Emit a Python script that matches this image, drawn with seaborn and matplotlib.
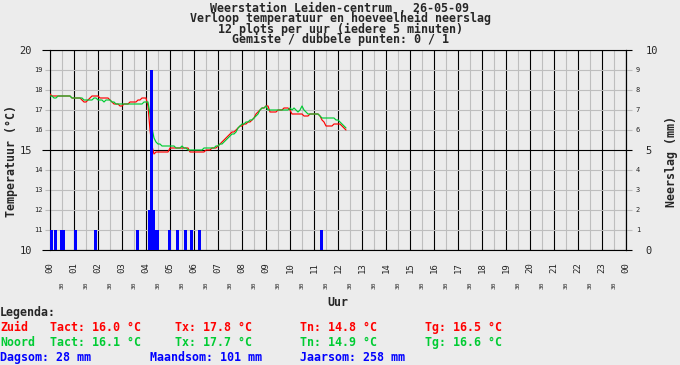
import numpy as np
import matplotlib
matplotlib.use("Agg")
import matplotlib.pyplot as plt
import seaborn as sns
from matplotlib.ticker import FixedLocator, FixedFormatter

# 5-minute samples from 00:00 (12 plots per uur), one row per hour
temp_zuid = [
    17.8, 17.7, 17.7, 17.7, 17.7, 17.7, 17.7, 17.7, 17.7, 17.7, 17.7, 17.6,
    17.6, 17.6, 17.6, 17.6, 17.5, 17.4, 17.4, 17.5, 17.6, 17.7, 17.7, 17.7,
    17.7, 17.6, 17.6, 17.6, 17.6, 17.6, 17.5, 17.4, 17.3, 17.3, 17.3, 17.2,
    17.2, 17.3, 17.3, 17.3, 17.4, 17.4, 17.4, 17.4, 17.5, 17.5, 17.6, 17.6,
    17.6, 17.2, 16.0, 15.2, 14.8, 14.9, 14.9, 14.9, 14.9, 14.9, 14.9, 14.9,
    15.1, 15.1, 15.1, 15.1, 15.1, 15.1, 15.1, 15.1, 15.1, 15.1, 14.9, 14.9,
    14.9, 14.9, 14.9, 14.9, 14.9, 14.9, 15.0, 15.0, 15.0, 15.1, 15.1, 15.1,
    15.2, 15.3, 15.4, 15.5, 15.6, 15.7, 15.8, 15.9, 15.9, 16.0, 16.1, 16.2,
    16.2, 16.3, 16.3, 16.4, 16.4, 16.5, 16.6, 16.8, 16.9, 17.0, 17.1, 17.1,
    17.2, 17.2, 16.9, 16.9, 16.9, 16.9, 17.0, 17.0, 17.0, 17.1, 17.1, 17.1,
    17.0, 16.8, 16.8, 16.8, 16.8, 16.8, 16.8, 16.7, 16.7, 16.7, 16.8, 16.8,
    16.8, 16.8, 16.8, 16.7, 16.5, 16.4, 16.2, 16.2, 16.2, 16.2, 16.3, 16.3,
    16.3, 16.3, 16.2, 16.1, 16.0,
]
temp_noord = [
    17.7, 17.7, 17.6, 17.6, 17.7, 17.7, 17.7, 17.7, 17.7, 17.7, 17.7, 17.6,
    17.6, 17.6, 17.6, 17.6, 17.6, 17.5, 17.5, 17.5, 17.5, 17.5, 17.6, 17.6,
    17.5, 17.5, 17.5, 17.4, 17.5, 17.5, 17.5, 17.4, 17.4, 17.3, 17.3, 17.3,
    17.3, 17.3, 17.3, 17.3, 17.3, 17.3, 17.3, 17.3, 17.3, 17.3, 17.3, 17.4,
    17.4, 17.4, 16.8, 16.1, 15.6, 15.4, 15.3, 15.3, 15.2, 15.2, 15.2, 15.2,
    15.2, 15.2, 15.2, 15.1, 15.1, 15.1, 15.2, 15.1, 15.1, 15.0, 15.0, 15.0,
    15.0, 15.0, 15.0, 15.0, 15.0, 15.1, 15.1, 15.1, 15.1, 15.1, 15.1, 15.2,
    15.2, 15.3, 15.3, 15.4, 15.5, 15.6, 15.7, 15.8, 15.8, 15.9, 16.1, 16.2,
    16.3, 16.3, 16.4, 16.4, 16.5, 16.5, 16.6, 16.7, 16.8, 17.0, 17.1, 17.1,
    17.2, 17.0, 17.0, 17.0, 17.0, 17.0, 17.0, 17.0, 17.0, 17.0, 17.0, 17.0,
    17.1, 17.0, 17.1, 17.0, 16.9, 17.0, 17.2, 17.0, 16.9, 16.8, 16.8, 16.8,
    16.8, 16.8, 16.8, 16.7, 16.6, 16.6, 16.6, 16.6, 16.6, 16.6, 16.6, 16.5,
    16.5, 16.4, 16.3, 16.2, 16.1,
]

# rain per 5 minutes (mm)
rain_times = ["00:00", "00:10", "00:25", "00:30", "01:00", "01:50", "03:35",
              "04:05", "04:10", "04:15", "04:20", "04:25", "04:55", "05:15",
              "05:35", "05:50", "06:10", "11:15"]
rain_mm = [1, 1, 1, 1, 1, 1, 1, 2, 9, 2, 1, 1, 1, 1, 1, 1, 1, 1]

hour_labels = ["%02d" % h for h in range(24)] + ["00"]

title_lines = ["Weerstation Leiden-centrum , 26-05-09",
               "Verloop temperatuur en hoeveelheid neerslag",
               "12 plots per uur (iedere 5 minuten)",
               "Gemiste / dubbele punten: 0 / 1"]

BG = "#ECECEC"
GRAY = "#BEBEBE"
RED = "#FF0000"
GREEN = "#00CC33"
BLUE = "#0000FF"

sns.set_style("white")
plt.rcParams["font.family"] = ["DejaVu Sans Mono", "DejaVu Sans"]

W, H = 680, 365
fig = plt.figure(figsize=(W / 100, H / 100), dpi=100, facecolor=BG)
ax = fig.add_axes([50 / W, 1 - 250 / H, 576 / W, 200 / H])
ax.set_facecolor(BG)

t_temp = np.arange(len(temp_zuid)) / 12
t_rain = [int(s[:2]) + int(s[3:]) / 60 for s in rain_times]

sns.lineplot(x=t_temp, y=temp_zuid, color=RED, lw=0.85, ax=ax, zorder=3)
sns.lineplot(x=t_temp[:len(temp_noord)], y=temp_noord, color=GREEN, lw=0.85, ax=ax, zorder=4)

ax.set_xlim(0, 24)
ax.set_ylim(10, 20)
ax.set_xlabel("")
ax.set_ylabel("")

# x ticks: hours major, half hours minor
ax.xaxis.set_major_locator(FixedLocator(list(range(25))))
ax.xaxis.set_major_formatter(FixedFormatter(hour_labels))
ax.xaxis.set_minor_locator(FixedLocator([h + 0.5 for h in range(24)]))
ax.xaxis.set_minor_formatter(FixedFormatter(["30"] * 24))
ax.tick_params(axis="x", which="major", length=6.5, width=0.8, color="black",
               labelsize=6.5, pad=2.5, labelrotation=90)
ax.tick_params(axis="x", which="minor", length=6.5, width=0.8, color=GRAY,
               labelsize=4.5, pad=16, labelrotation=90)

# y ticks left (temperature)
ax.yaxis.set_major_locator(FixedLocator([10, 15, 20]))
ax.yaxis.set_minor_locator(FixedLocator([11, 12, 13, 14, 16, 17, 18, 19]))
ax.yaxis.set_minor_formatter(FixedFormatter(["11", "12", "13", "14", "16", "17", "18", "19"]))
ax.tick_params(axis="y", which="major", length=5.8, width=0.8, color="black",
               labelsize=7.5, pad=7)
ax.tick_params(axis="y", which="minor", length=3.6, width=0.8, color=GRAY,
               labelsize=5, pad=1.5)

ax.grid(True, which="major", color="black", lw=0.8)
ax.grid(True, which="minor", color=GRAY, lw=0.8)
ax.set_axisbelow(True)
for s in ax.spines.values():
    s.set_color("black")
    s.set_linewidth(0.8)

# rain on right axis
ax2 = ax.twinx()
ax2.bar(t_rain, rain_mm, width=3 / 24, align="edge", color=BLUE, lw=0, zorder=5)
ax2.set_ylim(0, 10)
ax2.yaxis.set_major_locator(FixedLocator([0, 5, 10]))
ax2.yaxis.set_minor_locator(FixedLocator([1, 2, 3, 4, 6, 7, 8, 9]))
ax2.yaxis.set_minor_formatter(FixedFormatter(["1", "2", "3", "4", "6", "7", "8", "9"]))
ax2.tick_params(axis="y", which="major", length=4.5, width=0.8, color="black",
                labelsize=7.5, pad=9.5)
ax2.tick_params(axis="y", which="minor", length=4.5, width=0.8, color=GRAY,
                labelsize=5, pad=2.5)
for side in ["left", "top", "bottom"]:
    ax2.spines[side].set_visible(False)
ax2.spines["right"].set_color("black")
ax2.spines["right"].set_linewidth(0.8)


def px_text(x, y, s, **kw):
    fig.text(x / W, 1 - y / H, s, fontsize=8.4, fontweight="bold", **kw)


# title block as one text, lines 10 px apart
px_text(340, 2, "\n".join(title_lines), ha="center", va="top",
        multialignment="center", linespacing=0.74)

px_text(12, 161, "Temperatuur (°C)", ha="center", va="center", rotation=90)
px_text(672, 162, "Neerslag (mm)", ha="center", va="center", rotation=90)
px_text(338, 306, "Uur", ha="center", va="baseline")

px_text(0, 316, "Legenda:", ha="left", va="baseline")
rows = [
    (331, RED, ["Zuid", "Tact: 16.0 °C", "Tx: 17.8 °C", "Tn: 14.8 °C", "Tg: 16.5 °C"]),
    (346, GREEN, ["Noord", "Tact: 16.1 °C", "Tx: 17.7 °C", "Tn: 14.9 °C", "Tg: 16.6 °C"]),
]
cols = [0, 50, 175, 300, 425]
for y, c, texts in rows:
    for x, s in zip(cols, texts):
        px_text(x, y, s, ha="left", va="baseline", color=c)
for x, s in zip([0, 150, 300], ["Dagsom: 28 mm", "Maandsom: 101 mm", "Jaarsom: 258 mm"]):
    px_text(x, 361, s, ha="left", va="baseline", color=BLUE)

fig.savefig("out.png", dpi=100, facecolor=BG)
